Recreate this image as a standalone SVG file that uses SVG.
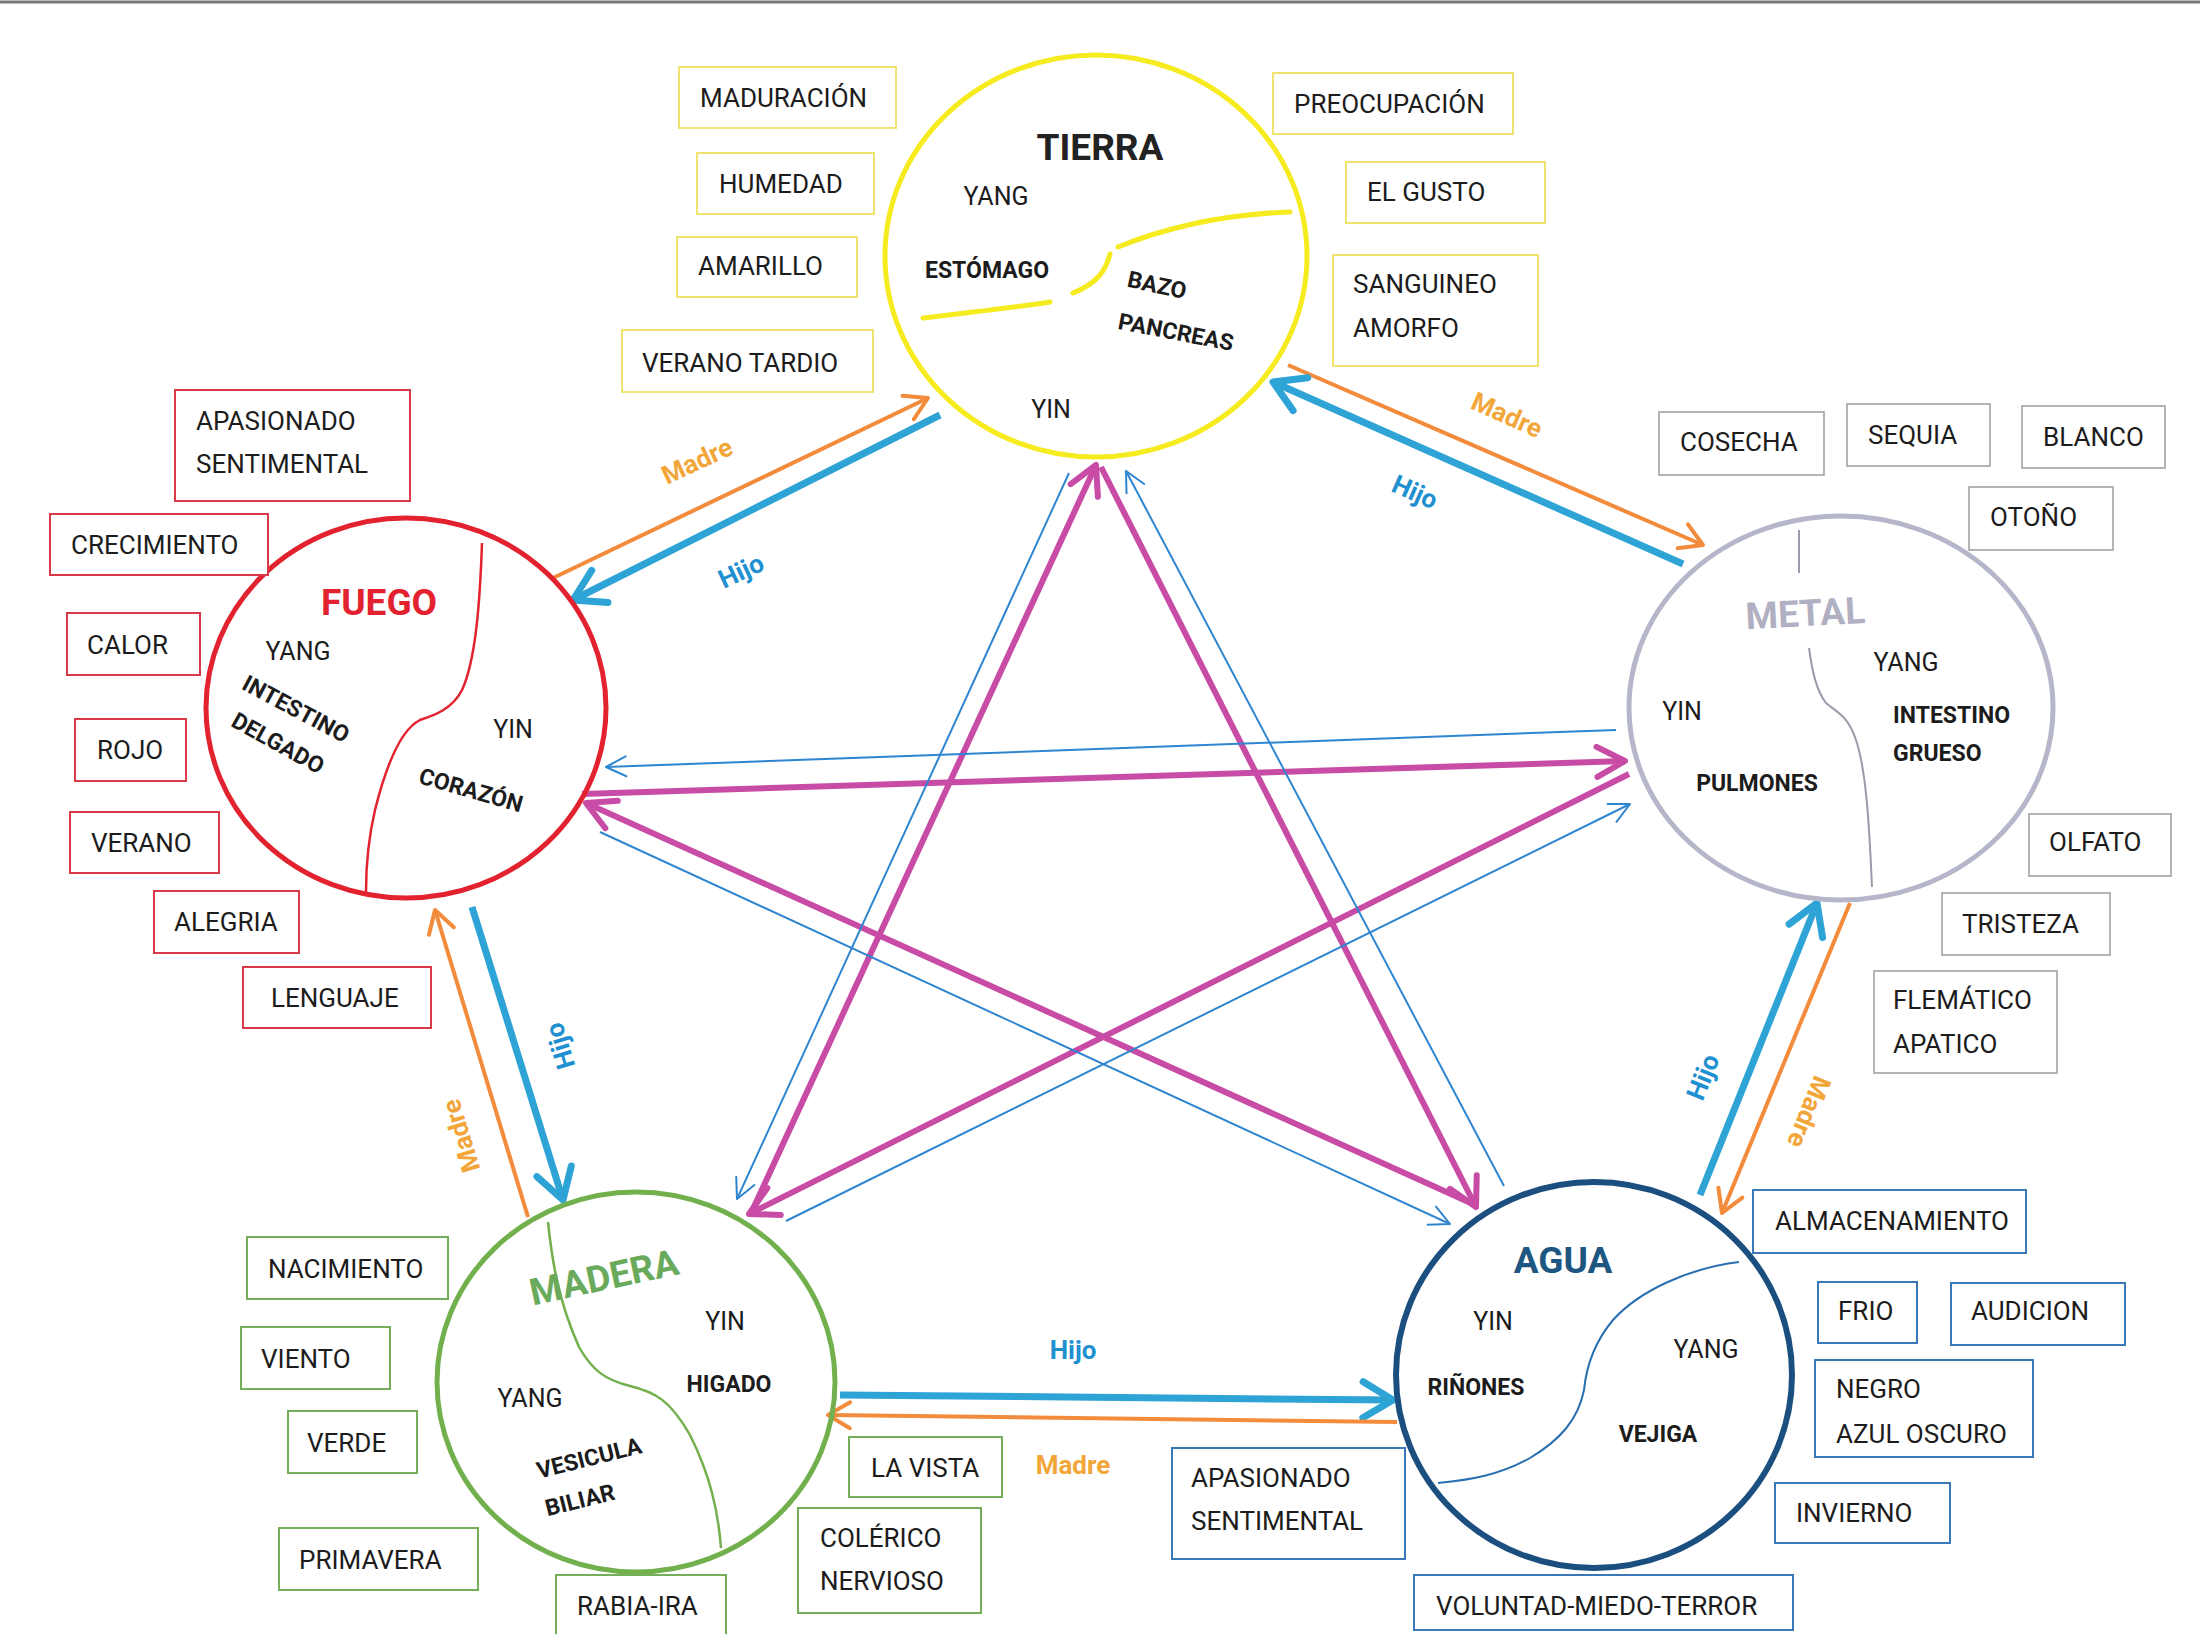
<svg xmlns="http://www.w3.org/2000/svg" width="2200" height="1650" viewBox="0 0 2200 1650">
<defs>
<style>
.t{font-family:Roboto,"Liberation Sans",sans-serif;font-size:26px;fill:#1c1c1c}
.i{font-family:Roboto,"Liberation Sans",sans-serif;font-size:25px;fill:#1c1c1c}
.o{font-family:Roboto,"Liberation Sans",sans-serif;font-size:23px;font-weight:700;fill:#1c1c1c}
.ti{font-family:Roboto,"Liberation Sans",sans-serif;font-size:37px;font-weight:700}
.lab{font-family:Roboto,"Liberation Sans",sans-serif;font-size:26px;font-weight:700}
.by{fill:#fff;stroke:#efe56e;stroke-width:2}
.br{fill:#fff;stroke:#d83a4a;stroke-width:2}
.bg{fill:#fff;stroke:#a2a2a2;stroke-width:1.6}
.bgr{fill:#fff;stroke:#74ae58;stroke-width:2}
.bb{fill:#fff;stroke:#3a78b8;stroke-width:2}
.hijo{stroke:#2ea3d5;stroke-width:7;fill:none;marker-end:url(#mH)}
.madre{stroke:#f28c3c;stroke-width:4;fill:none;marker-end:url(#mM)}
.ctrl{stroke:#c84ba6;stroke-width:6;fill:none;marker-end:url(#mC)}
.ins{stroke:#2f86d0;stroke-width:2;fill:none;marker-end:url(#mI)}
</style>
<marker id="mH" markerUnits="userSpaceOnUse" orient="auto" overflow="visible" markerWidth="1" markerHeight="1" refX="0" refY="0"><path d="M-30,-18 L0,0 L-30,18" fill="none" stroke="#2ea3d5" stroke-width="7" stroke-linecap="round" stroke-linejoin="round"/></marker>
<marker id="mM" markerUnits="userSpaceOnUse" orient="auto" overflow="visible" markerWidth="1" markerHeight="1" refX="0" refY="0"><path d="M-22,-13 L0,0 L-22,13" fill="none" stroke="#f28c3c" stroke-width="4" stroke-linecap="round" stroke-linejoin="round"/></marker>
<marker id="mC" markerUnits="userSpaceOnUse" orient="auto" overflow="visible" markerWidth="1" markerHeight="1" refX="0" refY="0"><path d="M-28,-15 L0,0 L-28,15" fill="none" stroke="#c84ba6" stroke-width="6" stroke-linecap="round" stroke-linejoin="round"/></marker>
<marker id="mI" markerUnits="userSpaceOnUse" orient="auto" overflow="visible" markerWidth="1" markerHeight="1" refX="0" refY="0"><path d="M-20,-10 L0,0 L-20,10" fill="none" stroke="#2f86d0" stroke-width="2" stroke-linecap="round" stroke-linejoin="round"/></marker>
</defs>
<rect width="2200" height="1650" fill="#fff"/>
<line x1="0" y1="2" x2="2200" y2="2" stroke="#777" stroke-width="3"/>

<g id="connectors">
<line class="madre" x1="553" y1="578" x2="928" y2="398"/>
<line class="hijo" x1="940" y1="415" x2="573" y2="600"/>
<line class="madre" x1="1288" y1="365" x2="1703" y2="545"/>
<line class="hijo" x1="1683" y1="564" x2="1273" y2="382"/>
<line class="madre" x1="528" y1="1217" x2="435" y2="910"/>
<line class="hijo" x1="472" y1="907" x2="563" y2="1200"/>
<line class="hijo" x1="1700" y1="1195" x2="1817" y2="903"/>
<line class="madre" x1="1850" y1="903" x2="1722" y2="1213"/>
<line class="hijo" x1="840" y1="1395" x2="1393" y2="1400"/>
<line class="madre" x1="1397" y1="1422" x2="828" y2="1415"/>
<line class="ctrl" x1="753" y1="1209" x2="1096" y2="465"/>
<line class="ctrl" x1="1101" y1="467" x2="1476" y2="1207"/>
<line class="ctrl" x1="1473" y1="1204" x2="586" y2="803"/>
<line class="ctrl" x1="582" y1="794" x2="1625" y2="761"/>
<line class="ctrl" x1="1629" y1="774" x2="749" y2="1214"/>
<line class="ins" x1="1069" y1="473" x2="737" y2="1199"/>
<line class="ins" x1="1504" y1="1186" x2="1126" y2="471"/>
<line class="ins" x1="600" y1="832" x2="1450" y2="1224"/>
<line class="ins" x1="1616" y1="730" x2="606" y2="767"/>
<line class="ins" x1="786" y1="1221" x2="1630" y2="804"/>
<g class="lab">
<text transform="translate(697,461) rotate(-25)" x="0" y="9" text-anchor="middle" fill="#f2a63a">Madre</text>
<text transform="translate(741,571) rotate(-25)" x="0" y="9" text-anchor="middle" fill="#2090d0">Hijo</text>
<text transform="translate(1507,415) rotate(24)" x="0" y="9" text-anchor="middle" fill="#f2a63a">Madre</text>
<text transform="translate(1415,492) rotate(24)" x="0" y="9" text-anchor="middle" fill="#2090d0">Hijo</text>
<text transform="translate(461,1136) rotate(-107)" x="0" y="9" text-anchor="middle" fill="#f2a63a">Madre</text>
<text transform="translate(560,1046) rotate(-107)" x="0" y="9" text-anchor="middle" fill="#2090d0">Hijo</text>
<text transform="translate(1703,1077) rotate(-68)" x="0" y="9" text-anchor="middle" fill="#2090d0">Hijo</text>
<text transform="translate(1809,1112) rotate(112)" x="0" y="9" text-anchor="middle" fill="#f2a63a">Madre</text>
<text x="1073" y="1359" text-anchor="middle" fill="#2090d0">Hijo</text>
<text x="1073" y="1474" text-anchor="middle" fill="#f2a63a">Madre</text>
</g>
</g>

<g id="tierra">
<ellipse cx="1096" cy="256" rx="211" ry="201" fill="none" stroke="#f5eb1e" stroke-width="5"/>
<g fill="none" stroke="#f5eb1e" stroke-width="5" stroke-linecap="round">
<path d="M923,318 C980,311 1025,306 1050,302"/>
<path d="M1073,293 C1098,283 1106,270 1110,254"/>
<path d="M1118,247 C1170,226 1230,214 1290,212"/>
</g>
<text class="ti" x="1100" y="160" text-anchor="middle" fill="#222">TIERRA</text>
<text class="i" x="996" y="205" text-anchor="middle">YANG</text>
<text class="o" x="987" y="278" text-anchor="middle">ESTÓMAGO</text>
<text class="o" transform="translate(1157,285) rotate(12)" x="0" y="8" text-anchor="middle">BAZO</text>
<text class="o" transform="translate(1176,332) rotate(11)" x="0" y="8" text-anchor="middle">PANCREAS</text>
<text class="i" x="1051" y="418" text-anchor="middle">YIN</text>
</g>

<g id="fuego">
<ellipse cx="406" cy="708" rx="200" ry="190" fill="none" stroke="#e2232f" stroke-width="5"/>
<path d="M482,543 C480,600 476,660 462,690 C452,710 432,716 420,720 C400,730 385,770 375,810 C368,840 366,870 366,892" fill="none" stroke="#e2232f" stroke-width="2.5"/>
<text class="ti" x="379" y="615" text-anchor="middle" fill="#e2232f">FUEGO</text>
<text class="i" x="298" y="660" text-anchor="middle">YANG</text>
<text class="o" transform="translate(296,709) rotate(28)" x="0" y="8" text-anchor="middle">INTESTINO</text>
<text class="o" transform="translate(278,743) rotate(29)" x="0" y="8" text-anchor="middle">DELGADO</text>
<text class="i" x="513" y="738" text-anchor="middle">YIN</text>
<text class="o" transform="translate(471,790) rotate(16)" x="0" y="8" text-anchor="middle">CORAZÓN</text>
</g>

<g id="metal">
<ellipse cx="1841" cy="708" rx="212" ry="192" fill="none" stroke="#b6b6ca" stroke-width="5"/>
<line x1="1799" y1="530" x2="1799" y2="573" stroke="#9a9aaa" stroke-width="2"/>
<path d="M1809,648 C1812,670 1816,690 1826,703 C1836,712 1848,715 1856,740 C1866,770 1869,820 1872,887" fill="none" stroke="#9a9aaa" stroke-width="2"/>
<text class="ti" transform="translate(1806,626) rotate(-3)" x="0" y="0" text-anchor="middle" fill="#b0b0c2">METAL</text>
<text class="i" x="1906" y="671" text-anchor="middle">YANG</text>
<text class="i" x="1682" y="720" text-anchor="middle">YIN</text>
<text class="o" x="1893" y="723">INTESTINO</text>
<text class="o" x="1893" y="761">GRUESO</text>
<text class="o" x="1757" y="791" text-anchor="middle">PULMONES</text>
</g>

<g id="madera">
<ellipse cx="636" cy="1382" rx="199" ry="190" fill="none" stroke="#72b04e" stroke-width="5"/>
<path d="M548,1222 C552,1260 558,1300 579,1347 C592,1370 605,1380 630,1386 C655,1392 670,1400 690,1435 C710,1475 718,1510 721,1548" fill="none" stroke="#72b04e" stroke-width="2.5"/>
<text class="ti" transform="translate(604,1277) rotate(-12)" x="0" y="13" text-anchor="middle" fill="#6aaa5c">MADERA</text>
<text class="i" x="725" y="1330" text-anchor="middle">YIN</text>
<text class="o" x="729" y="1392" text-anchor="middle">HIGADO</text>
<text class="i" x="530" y="1407" text-anchor="middle">YANG</text>
<text class="o" transform="translate(589,1458) rotate(-14)" x="0" y="8" text-anchor="middle">VESICULA</text>
<text class="o" transform="translate(580,1500) rotate(-14)" x="0" y="8" text-anchor="middle">BILIAR</text>
</g>

<g id="agua">
<ellipse cx="1594" cy="1375" rx="198" ry="193" fill="none" stroke="#1b4f80" stroke-width="6"/>
<path d="M1739,1262 C1690,1268 1640,1290 1613,1320 C1592,1345 1586,1370 1584,1390 C1578,1420 1560,1440 1530,1458 C1500,1475 1470,1480 1438,1483" fill="none" stroke="#2a6fb0" stroke-width="2"/>
<text class="ti" x="1563" y="1273" text-anchor="middle" fill="#1d5680">AGUA</text>
<text class="i" x="1493" y="1330" text-anchor="middle">YIN</text>
<text class="o" x="1476" y="1395" text-anchor="middle">RIÑONES</text>
<text class="i" x="1706" y="1358" text-anchor="middle">YANG</text>
<text class="o" x="1658" y="1442" text-anchor="middle">VEJIGA</text>
</g>

<g id="box-maduracion"><rect class="by" x="679" y="67" width="217" height="61"/><text class="t" x="700" y="107">MADURACIÓN</text></g>
<g id="box-humedad"><rect class="by" x="697" y="153" width="177" height="61"/><text class="t" x="719" y="193">HUMEDAD</text></g>
<g id="box-amarillo"><rect class="by" x="677" y="237" width="180" height="60"/><text class="t" x="698" y="275">AMARILLO</text></g>
<g id="box-verano-tardio"><rect class="by" x="622" y="330" width="251" height="62"/><text class="t" x="642" y="372">VERANO TARDIO</text></g>
<g id="box-preocupacion"><rect class="by" x="1273" y="73" width="240" height="61"/><text class="t" x="1294" y="113">PREOCUPACIÓN</text></g>
<g id="box-el-gusto"><rect class="by" x="1346" y="162" width="199" height="61"/><text class="t" x="1367" y="201">EL GUSTO</text></g>
<g id="box-sanguineo"><rect class="by" x="1333" y="255" width="205" height="111"/><text class="t" x="1353" y="293">SANGUINEO</text><text class="t" x="1353" y="337">AMORFO</text></g>

<g id="box-apasionado-f"><rect class="br" x="175" y="390" width="235" height="111"/><text class="t" x="196" y="430">APASIONADO</text><text class="t" x="196" y="473">SENTIMENTAL</text></g>
<g id="box-crecimiento"><rect class="br" x="50" y="514" width="218" height="61"/><text class="t" x="71" y="554">CRECIMIENTO</text></g>
<g id="box-calor"><rect class="br" x="67" y="613" width="133" height="62"/><text class="t" x="87" y="654">CALOR</text></g>
<g id="box-rojo"><rect class="br" x="75" y="719" width="111" height="62"/><text class="t" x="97" y="759">ROJO</text></g>
<g id="box-verano"><rect class="br" x="70" y="812" width="149" height="61"/><text class="t" x="91" y="852">VERANO</text></g>
<g id="box-alegria"><rect class="br" x="154" y="891" width="145" height="62"/><text class="t" x="174" y="931">ALEGRIA</text></g>
<g id="box-lenguaje"><rect class="br" x="243" y="967" width="188" height="61"/><text class="t" x="271" y="1007">LENGUAJE</text></g>

<g id="box-cosecha"><rect class="bg" x="1659" y="412" width="165" height="63"/><text class="t" x="1680" y="451">COSECHA</text></g>
<g id="box-sequia"><rect class="bg" x="1847" y="404" width="143" height="62"/><text class="t" x="1868" y="444">SEQUIA</text></g>
<g id="box-blanco"><rect class="bg" x="2022" y="406" width="143" height="62"/><text class="t" x="2043" y="446">BLANCO</text></g>
<g id="box-otono"><rect class="bg" x="1969" y="487" width="144" height="63"/><text class="t" x="1990" y="526">OTOÑO</text></g>
<g id="box-olfato"><rect class="bg" x="2029" y="814" width="142" height="62"/><text class="t" x="2049" y="851">OLFATO</text></g>
<g id="box-tristeza"><rect class="bg" x="1942" y="893" width="168" height="62"/><text class="t" x="1962" y="933">TRISTEZA</text></g>
<g id="box-flematico"><rect class="bg" x="1874" y="971" width="183" height="102"/><text class="t" x="1893" y="1009">FLEMÁTICO</text><text class="t" x="1893" y="1053">APATICO</text></g>

<g id="box-nacimiento"><rect class="bgr" x="247" y="1237" width="201" height="62"/><text class="t" x="268" y="1278">NACIMIENTO</text></g>
<g id="box-viento"><rect class="bgr" x="241" y="1327" width="149" height="62"/><text class="t" x="261" y="1368">VIENTO</text></g>
<g id="box-verde"><rect class="bgr" x="288" y="1411" width="129" height="62"/><text class="t" x="307" y="1452">VERDE</text></g>
<g id="box-primavera"><rect class="bgr" x="279" y="1528" width="199" height="62"/><text class="t" x="299" y="1569">PRIMAVERA</text></g>
<g id="box-rabia"><path class="bgr" fill="none" d="M556,1634 V1575 H726 V1634"/><text class="t" x="577" y="1615">RABIA-IRA</text></g>
<g id="box-la-vista"><rect class="bgr" x="849" y="1437" width="153" height="60"/><text class="t" x="871" y="1477">LA VISTA</text></g>
<g id="box-colerico"><rect class="bgr" x="798" y="1508" width="183" height="105"/><text class="t" x="820" y="1547">COLÉRICO</text><text class="t" x="820" y="1590">NERVIOSO</text></g>

<g id="box-apasionado-a"><rect class="bb" x="1172" y="1448" width="233" height="111"/><text class="t" x="1191" y="1487">APASIONADO</text><text class="t" x="1191" y="1530">SENTIMENTAL</text></g>
<g id="box-almacenamiento"><rect class="bb" x="1753" y="1190" width="273" height="63"/><text class="t" x="1775" y="1230">ALMACENAMIENTO</text></g>
<g id="box-frio"><rect class="bb" x="1818" y="1282" width="99" height="61"/><text class="t" x="1838" y="1320">FRIO</text></g>
<g id="box-audicion"><rect class="bb" x="1951" y="1283" width="174" height="62"/><text class="t" x="1971" y="1320">AUDICION</text></g>
<g id="box-negro"><rect class="bb" x="1815" y="1360" width="218" height="97"/><text class="t" x="1836" y="1398">NEGRO</text><text class="t" x="1836" y="1443">AZUL OSCURO</text></g>
<g id="box-invierno"><rect class="bb" x="1775" y="1483" width="175" height="60"/><text class="t" x="1796" y="1522">INVIERNO</text></g>
<g id="box-voluntad"><rect class="bb" x="1414" y="1575" width="379" height="55"/><text class="t" x="1436" y="1615">VOLUNTAD-MIEDO-TERROR</text></g>
</svg>
